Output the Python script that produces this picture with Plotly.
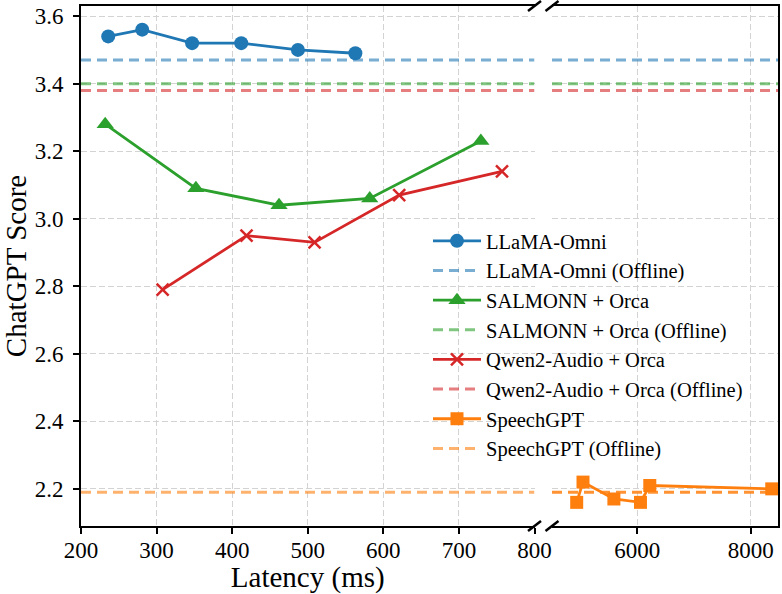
import plotly.graph_objects as go

# ---------------- data ----------------
llama_x = [236, 281, 347, 412, 487, 563]
llama_y = [3.54, 3.56, 3.52, 3.52, 3.50, 3.49]
salmonn_x = [232, 352, 462, 582, 729]
salmonn_y = [3.28, 3.09, 3.04, 3.06, 3.23]
qwen_x = [308, 419, 509, 621, 757]
qwen_y = [2.79, 2.95, 2.93, 3.07, 3.14]
speech_x = [4935, 5046, 5590, 6058, 6222, 8370]
speech_y = [2.16, 2.22, 2.17, 2.16, 2.21, 2.20]

offline = {
    "LLaMA-Omni (Offline)": 3.47,
    "SALMONN + Orca (Offline)": 3.40,
    "Qwen2-Audio + Orca (Offline)": 3.38,
    "SpeechGPT (Offline)": 2.19,
}

left_ticks = [200, 300, 400, 500, 600, 700, 800]
right_ticks = [6000, 8000]
y_ticks = [2.2, 2.4, 2.6, 2.8, 3.0, 3.2, 3.4, 3.6]

XL = [200, 800]
XR = [4500, 8480]
YR = [2.09, 3.63]

# ---------------- style ----------------
FONT = "Liberation Serif"
BLUE, GREEN, RED, ORANGE = "#1f77b4", "#2ca02c", "#d62728", "#ff7f0e"
LIGHT = {
    "LLaMA-Omni (Offline)": "rgba(31,119,180,0.6)",
    "SALMONN + Orca (Offline)": "rgba(44,160,44,0.6)",
    "Qwen2-Audio + Orca (Offline)": "rgba(214,39,40,0.6)",
    "SpeechGPT (Offline)": "rgba(255,127,14,0.6)",
}
LIGHT_R = dict(LIGHT)
LIGHT_R["SpeechGPT (Offline)"] = "rgba(255,127,14,0.85)"
DASH = "10px,6px"
GRID = "#d3d3d3"

W, H = 782, 594
ML, MR, MT, MB = 81, 4, 6, 68
PW = W - ML - MR
PH = H - MT - MB
left_dom = [0, (534.5 - ML) / PW]
right_dom = [(552 - ML) / PW, 1]

fig = go.Figure()

def solid(name, x, y, color, symbol, size, xa, ya, show):
    marker = dict(symbol=symbol, size=size, color=color)
    if symbol == "x-thin":
        marker["line"] = dict(width=2.5, color=color)
    fig.add_trace(go.Scatter(
        x=x, y=y, mode="lines+markers", name=name,
        line=dict(color=color, width=2.8),
        marker=marker, xaxis=xa, yaxis=ya, showlegend=show,
        legendgroup=name,
    ))

def off(name, val, xa, ya, rng, color, show):
    fig.add_trace(go.Scatter(
        x=rng, y=[val, val], mode="lines", name=name,
        line=dict(color=color, width=3, dash=DASH),
        xaxis=xa, yaxis=ya, showlegend=show, legendgroup=name,
    ))

# legend-ordered traces
solid("LLaMA-Omni", llama_x, llama_y, BLUE, "circle", 14, "x", "y", True)
off("LLaMA-Omni (Offline)", offline["LLaMA-Omni (Offline)"], "x", "y", XL, LIGHT["LLaMA-Omni (Offline)"], True)
solid("SALMONN + Orca", salmonn_x, salmonn_y, GREEN, "triangle-up", 15, "x", "y", True)
off("SALMONN + Orca (Offline)", offline["SALMONN + Orca (Offline)"], "x", "y", XL, LIGHT["SALMONN + Orca (Offline)"], True)
solid("Qwen2-Audio + Orca", qwen_x, qwen_y, RED, "x-thin", 12, "x", "y", True)
off("Qwen2-Audio + Orca (Offline)", offline["Qwen2-Audio + Orca (Offline)"], "x", "y", XL, LIGHT["Qwen2-Audio + Orca (Offline)"], True)
solid("SpeechGPT", speech_x, speech_y, ORANGE, "square", 13, "x2", "y2", True)
off("SpeechGPT (Offline)", offline["SpeechGPT (Offline)"], "x", "y", XL, LIGHT["SpeechGPT (Offline)"], True)

# right panel offline lines
for k, v in offline.items():
    off(k, v, "x2", "y2", XR, LIGHT_R[k], False)

tickfont = dict(family=FONT, size=23, color="black")
common_axis = dict(showline=True, linecolor="black", linewidth=2,
                   ticks="outside", ticklen=6, tickwidth=1.5, tickcolor="black",
                   showgrid=True, gridcolor=GRID, gridwidth=1.2, griddash="6px,3px",
                   zeroline=False, tickfont=tickfont, automargin=False)

fig.update_layout(
    width=W, height=H,
    margin=dict(l=ML, r=MR, t=MT, b=MB),
    paper_bgcolor="white", plot_bgcolor="white",
    font=dict(family=FONT, color="black"),
    xaxis=dict(domain=left_dom, range=XL, tickvals=left_ticks, mirror=True,
               anchor="y", ticklabelstandoff=-4,
               title=dict(text="Latency (ms)", font=dict(family=FONT, size=29), standoff=0),
               **common_axis),
    xaxis2=dict(domain=right_dom, range=XR, tickvals=right_ticks, mirror=True,
                anchor="y2", ticklabelstandoff=-4, **common_axis),
    yaxis=dict(range=YR, tickvals=y_ticks, tickformat=".1f", anchor="x",
               ticklabelstandoff=5,
               title=dict(text="ChatGPT Score", font=dict(family=FONT, size=29), standoff=2),
               **common_axis),
    yaxis2=dict(range=YR, matches="y", anchor="x2", side="right",
                showticklabels=False, showline=True, linecolor="black", linewidth=2,
                ticks="", showgrid=True, gridcolor=GRID, gridwidth=1.2,
                griddash="6px,3px", zeroline=False, tickvals=y_ticks, automargin=False),
    legend=dict(x=(428 - ML) / PW, y=(MT + PH - 221) / PH, xanchor="left", yanchor="top",
                bgcolor="rgba(0,0,0,0)", borderwidth=0,
                font=dict(family=FONT, size=20.5, color="black"),
                traceorder="grouped", tracegroupgap=0, itemwidth=48),
)

# axis break marks
def brk(xc_paper, yc_paper):
    dx = 6.5 / PW
    dy = 5 / PH
    fig.add_shape(type="line", xref="paper", yref="paper",
                  x0=xc_paper - dx, y0=yc_paper - dy, x1=xc_paper + dx, y1=yc_paper + dy,
                  line=dict(color="black", width=2.5))

for xc in (left_dom[1], right_dom[0]):
    brk(xc, 0)
    brk(xc, 1)

fig.write_html("out.html", config={"displayModeBar": False},
               post_script="document.body.style.margin='0';document.body.style.overflow='hidden';")
